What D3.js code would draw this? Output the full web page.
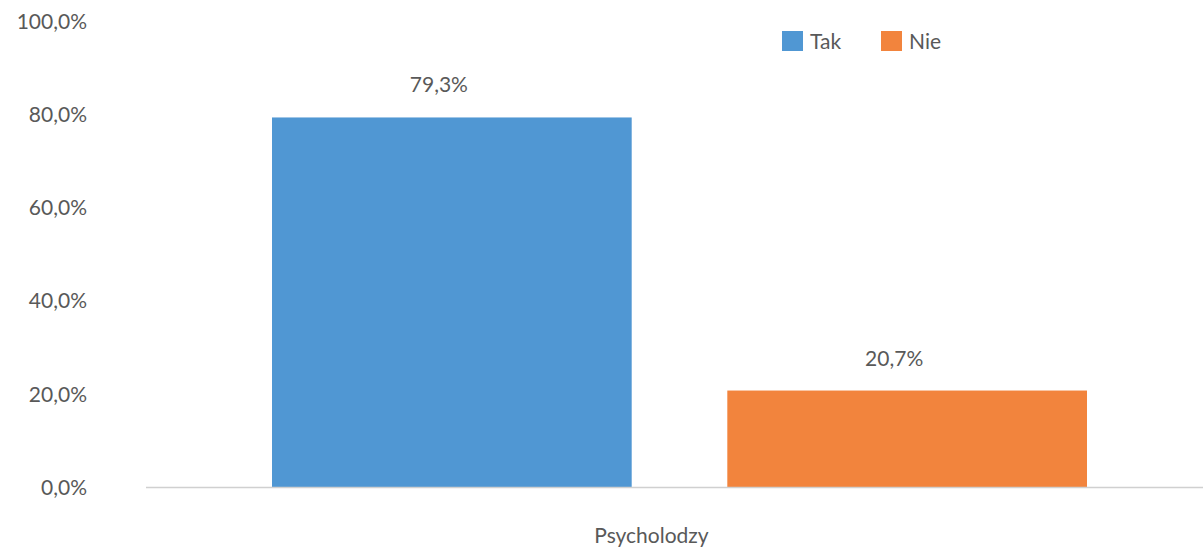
<!DOCTYPE html>
<html><head><meta charset="utf-8">
<script src="https://cdn.jsdelivr.net/npm/d3@7"></script>
<style>body{margin:0;background:#fff}svg{display:block}text{font-family:Lato,"Open Sans",sans-serif;fill:#595959}</style>
</head><body><svg width="1203" height="547"></svg>
<script>
const categories = ["Psycholodzy"];
const seriesNames = ["Tak", "Nie"];
const seriesValues = [79.3, 20.7];
const seriesColors = ["#5097d3", "#f2843d"];
const yTicks = [0, 20, 40, 60, 80, 100];

const svg = d3.select("svg");
const fmt = v => v.toFixed(1).replace(".", ",") + "%";
const FS = "21px";

const y = d3.scaleLinear().domain([0, 100]).range([487, 21]);
const x0 = d3.scaleBand().domain(categories).range([147, 1212]);
const x1 = d3.scaleBand().domain(seriesNames).range([125, x0.bandwidth() - 125]).paddingInner(0.21);

// y axis labels
const yAxis = d3.axisLeft(y).tickValues(yTicks).tickFormat(fmt).tickSize(0).tickPadding(0);
const ya = svg.append("g").attr("transform", "translate(87,0)").call(yAxis);
ya.select(".domain").remove();
ya.selectAll("text").style("font-size", FS).attr("dy", "0.35em");

// bars
const g = svg.append("g");
categories.forEach(c => {
  seriesNames.forEach((s, i) => {
    const v = seriesValues[i];
    const bx = x0(c) + x1(s);
    g.append("rect").attr("x", bx).attr("y", y(v)).attr("width", x1.bandwidth())
      .attr("height", y(0) - y(v)).attr("fill", seriesColors[i]);
    g.append("text").attr("x", bx + x1.bandwidth() / 2 - 13).attr("y", y(v) - 25)
      .attr("text-anchor", "middle").style("font-size", FS).text(fmt(v));
  });
});

// x axis line
svg.append("line").attr("x1", 146).attr("x2", 1203).attr("y1", 487.5).attr("y2", 487.5)
  .attr("stroke", "#d0d0d0").attr("stroke-width", 1.5);

// category label
categories.forEach(c => {
  svg.append("text").attr("x", x0(c) + x0.bandwidth() / 2 - 28).attr("y", 543)
    .attr("text-anchor", "middle").style("font-size", FS).text(c);
});

// legend
const legendX = [782, 881];
seriesNames.forEach((s, i) => {
  const lg = svg.append("g").attr("transform", `translate(${legendX[i]},31)`);
  lg.append("rect").attr("width", 21).attr("height", 20).attr("fill", seriesColors[i]);
  lg.append("text").attr("x", 28).attr("y", 18).style("font-size", FS).text(s);
});
</script></body></html>
